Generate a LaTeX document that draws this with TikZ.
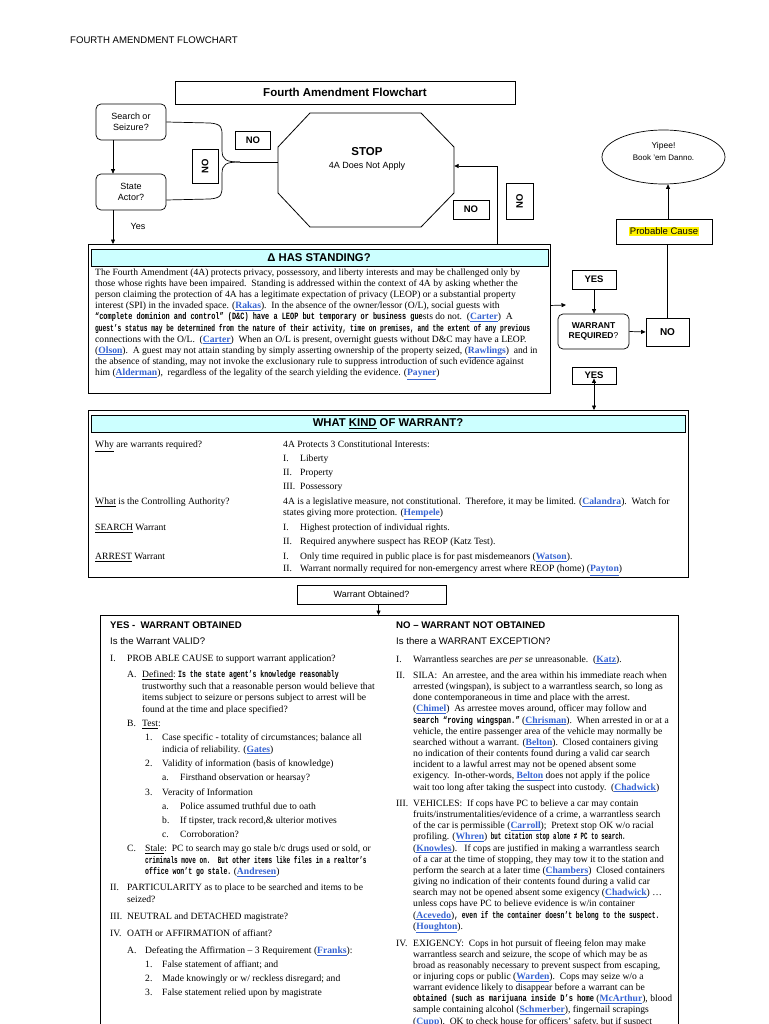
\documentclass[tikz,border=0pt]{standalone}
\usepackage{fontspec}
\usepackage{graphicx}
\setmainfont{Liberation Serif}
\setsansfont{Liberation Sans}
\newfontfamily\oddf{Liberation Mono}
\usetikzlibrary{arrows.meta,shapes.geometric}
\definecolor{lk}{RGB}{55,100,210}
\definecolor{cy}{RGB}{204,255,255}
\newcounter{lnc}
\newcommand\lk[1]{{\color{lk}\bfseries\underline{#1}}}
\newcommand\od[2]{\scalebox{#1}[1]{\oddf\bfseries #2}}
\tikzset{
  arr/.style={-{Triangle[length=4.5pt,width=4pt]}},
  rbox/.style={draw,rounded corners=5pt,line width=0.7pt,align=center,inner sep=0,
    font=\sffamily\fontsize{9}{10.5}\selectfont},
  nobox/.style={draw,line width=0.8pt,inner sep=0,font=\sffamily\bfseries\fontsize{9.5}{11}\selectfont},
  tl/.style={anchor=base west,inner sep=0,font=\fontsize{9.6}{11}\selectfont},
  sl/.style={anchor=base west,inner sep=0,font=\sffamily\fontsize{9.6}{11}\selectfont},
  slb/.style={anchor=base west,inner sep=0,font=\sffamily\bfseries\fontsize{9.6}{11}\selectfont},
  frame/.style={draw,line width=0.9pt,inner sep=0,anchor=north west},
  bar/.style={draw,line width=0.8pt,fill=cy,inner sep=0,anchor=north west},
  bartxt/.style={font=\sffamily\bfseries\fontsize{11.3}{13}\selectfont,inner sep=0},
}
\newcommand\TL[3]{\stepcounter{lnc}\node[tl] (t\number\value{lnc}) at (#1,#2) {#3};}
\newcommand\SL[3]{\stepcounter{lnc}\node[sl] (t\number\value{lnc}) at (#1,#2) {#3};}
\newcommand\SB[3]{\stepcounter{lnc}\node[slb] (t\number\value{lnc}) at (#1,#2) {#3};}
\begin{document}
\begin{tikzpicture}[x=1pt,y=-1pt]
\useasboundingbox (0,0) rectangle (768,1024);
\fill[white] (0,0) rectangle (768,1024);

% header
\SL{70}{43.5}{FOURTH AMENDMENT FLOWCHART}
\node[draw,line width=0.8pt,minimum width=340,minimum height=23,inner sep=0,
  font=\sffamily\bfseries\fontsize{11.5}{13}\selectfont] (title) at (345,92.5) {Fourth Amendment Flowchart};

% left flow
\node[rbox,minimum width=70,minimum height=36] (search) at (131,122) {Search or\\Seizure?};
\node[rbox,minimum width=70,minimum height=36] (state) at (131,192) {State\\Actor?};
\node[font=\sffamily\fontsize{9}{10}\selectfont,inner sep=0] (yeslbl) at (138,226) {Yes};

% STOP octagon
\node[minimum width=176,minimum height=114,inner sep=0] (stop) at (366,170) {};
\draw[line width=0.8pt] (310,113) -- (421,113) -- (454,147) -- (454,193) -- (421,227)
  -- (310,227) -- (278,193) -- (278,147) -- cycle;
\node[font=\sffamily\bfseries\fontsize{11.5}{13}\selectfont,inner sep=0] (stoptxt) at (367,152) {STOP};
\node[font=\sffamily\fontsize{9}{10}\selectfont,inner sep=0] (stopsub) at (367,166) {4A Does Not Apply};

\node[nobox,minimum width=35,minimum height=18] (no1) at (253,140) {NO};
\node[nobox,rotate=90,minimum width=34,minimum height=26] (no2) at (205,166) {NO};
\node[nobox,minimum width=36,minimum height=19] (no3) at (471,209.5) {NO};
\node[nobox,rotate=90,minimum width=36,minimum height=27] (no4) at (519.5,201) {NO};

\coordinate (join) at (240,162);
\draw[line width=0.7pt] (search.east) -- (210,123) .. controls (222,124) and (222,128) .. (222,136)
  -- (222,150) .. controls (222,160) and (226,162) .. (join);
\draw[line width=0.7pt] ([yshift=-8]state.east) -- (210,199) .. controls (222,198) and (222,194) .. (222,186)
  -- (222,174) .. controls (222,164) and (226,162) .. (join);
\draw[line width=0.7pt] (join) -- ([yshift=8]stop.west);

% standing box
\node[frame,minimum width=462,minimum height=149] (stand) at (88,244) {};
\node[bar,minimum width=457,minimum height=17] (standbar) at (91,249) {};
\node[bartxt] (standtxt) at (319,257.5) {Δ HAS STANDING?};

\draw[arr,line width=0.7pt] ([xshift=-18]search.south) -- ([xshift=-18]state.north);
\draw[arr,line width=0.7pt] ([xshift=-18]state.south) -- ([xshift=-18]state.south |- stand.north);
\draw[arr,line width=0.7pt] ([xshift=178]stand.north) |- ([yshift=4]stop.east);

\TL{95}{275.5}{The Fourth Amendment (4A) protects privacy, possessory, and liberty interests and may be challenged only by}
\TL{95}{286.6}{those whose rights have been impaired.\ \ Standing is addressed within the context of 4A by asking whether the}
\TL{95}{297.7}{person claiming the protection of 4A has a legitimate expectation of privacy (LEOP) or a substantial property}
\TL{95}{308.8}{interest (SPI) in the invaded space. (\lk{Rakas}).\ \ In the absence of the owner/lessor (O/L), social guests with}
\TL{95}{319.9}{\od{0.72}{“complete dominion and control” (D\&C) have a LEOP but temporary or business gue}sts do not.\ \ (\lk{Carter})\ \ A}
\TL{95}{331.0}{\od{0.651}{guest’s status may be determined from the nature of their activity, time on premises, and the extent of any previous}}
\TL{95}{342.1}{connections with the O/L.\ \ (\lk{Carter})\ \ When an O/L is present, overnight guests without D\&C may have a LEOP.}
\TL{95}{353.2}{(\lk{Olson}).\ \ A guest may not attain standing by simply asserting ownership of the property seized, (\lk{Rawlings})\ \ and in}
\TL{95}{364.3}{the absence of standing, may not invoke the exclusionary rule to suppress introduction of such evidence against}
\TL{95}{375.4}{him (\lk{Alderman}),\ \ regardless of the legality of the search yielding the evidence. (\lk{Payner})}

% right flow
\node[draw,ellipse,line width=0.7pt,minimum width=123,minimum height=54,inner sep=0] (ell) at (663.5,157) {};
\node[font=\sffamily\fontsize{8.5}{10}\selectfont,inner sep=0] (yip) at (663.5,146) {Yipee!};
\node[font=\sffamily\fontsize{8}{10}\selectfont,inner sep=0] (book) at (663.5,157.5) {Book ’em Danno.};
\node[draw,line width=0.8pt,minimum width=96,minimum height=25,inner sep=0,
  font=\sffamily\fontsize{9.5}{11}\selectfont] (pc) at (664,231.5) {\setlength{\fboxsep}{0.6pt}\colorbox{yellow}{Probable Cause}};
\draw[arr,line width=0.7pt] ([xshift=4]pc.north) -- ([xshift=4]pc.north |- ell.south);

\node[nobox,minimum width=44,minimum height=19] (yes1) at (594,279.5) {YES};
\node[rbox,minimum width=71,minimum height=35,font=\sffamily\fontsize{8.5}{10}\selectfont] (wr) at (593.5,331.5) {\textbf{WARRANT}\\\textbf{REQUIRED}?};
\node[nobox,minimum width=43,minimum height=28,font=\sffamily\bfseries\fontsize{10}{11}\selectfont] (no5) at (667.5,332) {NO};
\node[nobox,minimum width=44,minimum height=17] (yes2) at (594,375.5) {YES};
\coordinate (sa) at (566,305);
\draw[arr,line width=0.7pt] ([yshift=13.5]stand.east) -- (sa);
\draw[arr,line width=0.7pt] (yes1.south) -- (yes1.south |- wr.north);
\draw[arr,line width=0.7pt] (wr.east) -- (no5.west);
\draw[line width=0.7pt] (no5.north) -- (no5.north |- pc.south);

% what kind of warrant
\node[frame,minimum width=600,minimum height=167] (kind) at (88,410) {};
\node[bar,minimum width=594,minimum height=17] (kindbar) at (91,415) {};
\node[bartxt] (kindtxt) at (388,423.5) {WHAT \underline{KIND} OF WARRANT?};
\draw[arr,line width=0.7pt] (yes2.south) -- ++(0,-6);
\draw[arr,line width=0.7pt] (yes2.south) -- (yes2.south |- kind.north);

\TL{95}{447.5}{\underline{Why} are warrants required?}
\TL{283}{447.5}{4A Protects 3 Constitutional Interests:}
\TL{283}{461.5}{I.} \TL{300}{461.5}{Liberty}
\TL{283}{475.5}{II.} \TL{300}{475.5}{Property}
\TL{283}{489.5}{III.} \TL{300}{489.5}{Possessory}
\TL{95}{504.5}{\underline{What} is the Controlling Authority?}
\TL{283}{504.5}{4A is a legislative measure, not constitutional.\ \ Therefore, it may be limited. (\lk{Calandra}).\ \ Watch for}
\TL{283}{515.5}{states giving more protection. (\lk{Hempele})}
\TL{95}{530.5}{\underline{SEARCH} Warrant}
\TL{283}{530.5}{I.} \TL{300}{530.5}{Highest protection of individual rights.}
\TL{283}{544.5}{II.} \TL{300}{544.5}{Required anywhere suspect has REOP (Katz Test).}
\TL{95}{559.5}{\underline{ARREST} Warrant}
\TL{283}{559.5}{I.} \TL{300}{559.5}{Only time required in public place is for past misdemeanors (\lk{Watson}).}
\TL{283}{571.5}{II.} \TL{300}{571.5}{Warrant normally required for non-emergency arrest where REOP (home) (\lk{Payton})}

% warrant obtained
\node[draw,line width=0.8pt,minimum width=149,minimum height=19,inner sep=0,
  font=\sffamily\fontsize{9}{10}\selectfont] (wo) at (371.5,594.5) {Warrant Obtained?};
\node[frame,minimum width=578,minimum height=430] (cols) at (100,615) {};
\draw[arr,line width=0.7pt] ([xshift=7]wo.south) -- ([xshift=7]wo.south |- cols.north);

% left column
\SB{110}{628.5}{YES -\ \ WARRANT OBTAINED}
\SL{110}{644.5}{Is the Warrant VALID?}
\TL{110}{661.5}{I.} \TL{127}{661.5}{PROB ABLE CAUSE to support warrant application?}
\TL{127}{677.5}{A.} \TL{142}{677.5}{\underline{Defined}:\ \od{0.68}{Is the state agent’s knowledge reasonably}}
\TL{142}{689}{trustworthy such that a reasonable person would believe that}
\TL{142}{700.5}{items subject to seizure or persons subject to arrest will be}
\TL{142}{712}{found at the time and place specified?}
\TL{127}{726.5}{B.} \TL{142}{726.5}{\underline{Test}:}
\TL{145}{740.5}{1.} \TL{162}{740.5}{Case specific - totality of circumstances; balance all}
\TL{162}{752}{indicia of reliability. (\lk{Gates})}
\TL{145}{766.5}{2.} \TL{162}{766.5}{Validity of information (basis of knowledge)}
\TL{162}{780.5}{a.} \TL{180}{780.5}{Firsthand observation or hearsay?}
\TL{145}{795}{3.} \TL{162}{795}{Veracity of Information}
\TL{162}{809.5}{a.} \TL{180}{809.5}{Police assumed truthful due to oath}
\TL{162}{823.5}{b.} \TL{180}{823.5}{If tipster, track record,\& ulterior motives}
\TL{162}{837.5}{c.} \TL{180}{837.5}{Corroboration?}
\TL{127}{851.5}{C.} \TL{145}{851.5}{\underline{Stale}:\ \ PC to search may go stale b/c drugs used or sold, or}
\TL{145}{863}{\od{0.63}{criminals move on.\ \ But other items like files in a realtor’s}}
\TL{145}{874.5}{\od{0.68}{office won’t go stale.} (\lk{Andresen})}
\TL{110}{890.5}{II.} \TL{127}{890.5}{PARTICULARITY as to place to be searched and items to be}
\TL{127}{902}{seized?}
\TL{110}{919.5}{III.} \TL{127}{919.5}{NEUTRAL and DETACHED magistrate?}
\TL{110}{936.5}{IV.} \TL{127}{936.5}{OATH or AFFIRMATION of affiant?}
\TL{127}{953.5}{A.} \TL{145}{953.5}{Defeating the Affirmation – 3 Requirement (\lk{Franks}):}
\TL{145}{967.5}{1.} \TL{162}{967.5}{False statement of affiant; and}
\TL{145}{981.5}{2.} \TL{162}{981.5}{Made knowingly or w/ reckless disregard; and}
\TL{145}{995.5}{3.} \TL{162}{995.5}{False statement relied upon by magistrate}

% right column
\SB{396}{628.5}{NO – WARRANT NOT OBTAINED}
\SL{396}{644.5}{Is there a WARRANT EXCEPTION?}
\TL{396}{662}{I.} \TL{413}{662}{Warrantless searches are \textit{per se} unreasonable.\ \ (\lk{Katz}).}
\TL{396}{678.5}{II.}
\TL{413}{678.5}{SILA:\ \ An arrestee, and the area within his immediate reach when}
\TL{413}{689.6}{arrested (wingspan), is subject to a warrantless search, so long as}
\TL{413}{700.8}{done contemporaneous in time and place with the arrest.}
\TL{413}{711.9}{(\lk{Chimel})\ \ As arrestee moves around, officer may follow and}
\TL{413}{723.1}{\od{0.74}{search “roving wingspan.”} (\lk{Chrisman}).\ \ When arrested in or at a}
\TL{413}{734.2}{vehicle, the entire passenger area of the vehicle may normally be}
\TL{413}{745.4}{searched without a warrant. (\lk{Belton}).\ \ Closed containers giving}
\TL{413}{756.5}{no indication of their contents found during a valid car search}
\TL{413}{767.7}{incident to a lawful arrest may not be opened absent some}
\TL{413}{778.8}{exigency.\ \ In-other-words, \lk{Belton} does not apply if the police}
\TL{413}{790.0}{wait too long after taking the suspect into custody.\ \ (\lk{Chadwick})}
\TL{396}{806.5}{III.}
\TL{413}{806.5}{VEHICLES:\ \ If cops have PC to believe a car may contain}
\TL{413}{817.6}{fruits/instrumentalities/evidence of a crime, a warrantless search}
\TL{413}{828.8}{of the car is permissible (\lk{Carroll});\ \ Pretext stop OK w/o racial}
\TL{413}{839.9}{profiling. (\lk{Whren})\od{0.6}{ but citation stop alone ≠ PC to search.}}
\TL{413}{851.1}{(\lk{Knowles}).\ \ \ If cops are justified in making a warrantless search}
\TL{413}{862.2}{of a car at the time of stopping, they may tow it to the station and}
\TL{413}{873.4}{perform the search at a later time (\lk{Chambers})\ \ Closed containers}
\TL{413}{884.5}{giving no indication of their contents found during a valid car}
\TL{413}{895.7}{search may not be opened absent some exigency (\lk{Chadwick}) …}
\TL{413}{906.8}{unless cops have PC to believe evidence is w/in container}
\TL{413}{918.0}{(\lk{Acevedo})\od{0.66}{, even if the container doesn’t belong to the suspect.}}
\TL{413}{929.1}{(\lk{Houghton}).}
\TL{396}{946}{IV.}
\TL{413}{946}{EXIGENCY:\ \ Cops in hot pursuit of fleeing felon may make}
\TL{413}{957.1}{warrantless search and seizure, the scope of which may be as}
\TL{413}{968.3}{broad as reasonably necessary to prevent suspect from escaping,}
\TL{413}{979.4}{or injuring cops or public (\lk{Warden}).\ \ Cops may seize w/o a}
\TL{413}{990.6}{warrant evidence likely to disappear before a warrant can be}
\TL{413}{1001.7}{\od{0.73}{obtained (such as marijuana inside D’s home} (\lk{McArthur}), blood}
\TL{413}{1012.9}{sample containing alcohol (\lk{Schmerber}), fingernail scrapings}
\TL{413}{1024.0}{(\lk{Cupp}).\ \ OK to check house for officers’ safety, but if suspect}
\end{tikzpicture}
\end{document}
